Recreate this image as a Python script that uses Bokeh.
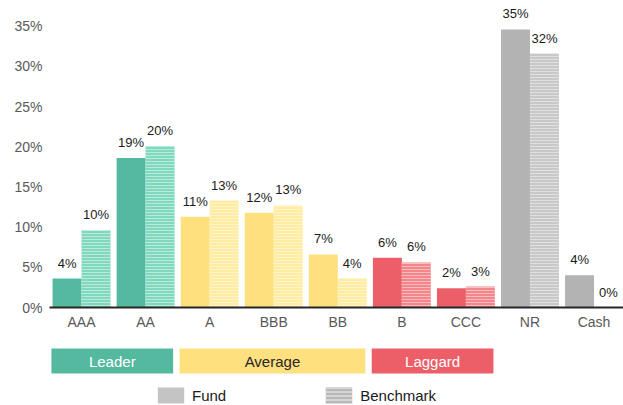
from bokeh.plotting import figure
from bokeh.models import Range1d, FixedTicker, ColumnDataSource, Legend, LegendItem
from bokeh.layouts import column
from bokeh.core.properties import value
from bokeh.embed import file_html
from bokeh.resources import INLINE

# ---------------- data ----------------
categories = ["AAA", "AA", "A", "BBB", "BB", "B", "CCC", "NR", "Cash"]
fund = [3.6, 18.6, 11.3, 11.8, 6.6, 6.2, 2.4, 34.6, 4.0]
benchmark = [9.6, 20.1, 13.3, 12.7, 3.6, 5.6, 2.6, 31.6, 0.0]
tiers = ["Leader", "Leader", "Average", "Average", "Average", "Laggard", "Laggard", "Other", "Other"]
band_names = ["Leader", "Average", "Laggard"]
y_ticks = [0, 5, 10, 15, 20, 25, 30, 35]
series_names = ["Fund", "Benchmark"]

# ---------------- styles ----------------
FONT = "Liberation Sans"
fund_colors = {"Leader": "#55B9A0", "Average": "#FFE07E", "Laggard": "#EC5F68", "Other": "#B3B3B3"}
bench_colors = {"Leader": "#80D8BF", "Average": "#FFECA0", "Laggard": "#F4868B", "Other": "#C8C8C8"}
band_text_colors = {"Leader": "white", "Average": "#262626", "Laggard": "white"}

idx = list(range(len(categories)))
half = 0.226
xf = [i - half for i in idx]
xb = [i + half for i in idx]

fund_src = ColumnDataSource(dict(
    x=xf, top=fund, color=[fund_colors[t] for t in tiers],
    label=[f"{round(v):.0f}%" for v in fund]))
bench_src = ColumnDataSource(dict(
    x=xb, top=benchmark, color=[bench_colors[t] for t in tiers],
    label=[f"{round(v):.0f}%" for v in benchmark]))

x_range = Range1d(-0.5, 8.46)

p = figure(width=623, height=337, x_range=x_range, y_range=Range1d(0, 38.2),
           output_backend="svg", toolbar_location=None,
           min_border_left=49, min_border_right=0, min_border_top=0, min_border_bottom=30)
p.outline_line_color = None
p.grid.visible = False
p.background_fill_color = "white"
p.border_fill_color = "white"

p.vbar(x="x", top="top", width=2 * half, source=fund_src, fill_color="color", line_color=None)
p.vbar(x="x", top="top", width=2 * half, source=bench_src, fill_color="color", line_color=None,
       hatch_pattern="horizontal_line", hatch_color="white", hatch_alpha=0.45,
       hatch_scale=3, hatch_weight=1)

for src in (fund_src, bench_src):
    p.text(x="x", y="top", text="label", source=src, text_align="center",
           text_baseline="bottom", y_offset=-8, text_font=value(FONT),
           text_font_size="13px", text_color="#1a1a1a")

# axes
p.yaxis.ticker = FixedTicker(ticks=y_ticks)
p.yaxis.major_label_overrides = {t: f"{t}%" for t in y_ticks}
p.yaxis.axis_line_color = None
p.yaxis.major_tick_line_color = None
p.yaxis.minor_tick_line_color = None
p.yaxis.major_label_text_font = FONT
p.yaxis.major_label_text_font_size = "14px"
p.yaxis.major_label_text_color = "#595959"
p.yaxis.major_label_standoff = 1

p.xaxis.ticker = FixedTicker(ticks=idx)
p.xaxis.major_label_overrides = {i: c for i, c in zip(idx, categories)}
p.xaxis.axis_line_color = "#262626"
p.xaxis.axis_line_width = 2
p.xaxis.major_tick_line_color = None
p.xaxis.minor_tick_line_color = None
p.xaxis.major_label_text_font = FONT
p.xaxis.major_label_text_font_size = "14px"
p.xaxis.major_label_text_color = "#595959"
p.xaxis.major_label_standoff = 0

# ---------------- band + legend figure ----------------
p2 = figure(width=623, height=68, x_range=x_range, y_range=Range1d(68, 0),
            output_backend="svg", toolbar_location=None,
            min_border_left=49, min_border_right=0, min_border_top=0, min_border_bottom=0,
            x_axis_location=None, y_axis_location=None)
p2.outline_line_color = None
p2.grid.visible = False

b_left, b_right, b_mid, b_col, b_tcol = [], [], [], [], []
for name in band_names:
    members = [i for i, t in zip(idx, tiers) if t == name]
    l = min(members) - 0.47
    r = max(members) + 0.43
    b_left.append(l)
    b_right.append(r)
    b_mid.append((l + r) / 2)
    b_col.append(fund_colors[name])
    b_tcol.append(band_text_colors[name])

band_src = ColumnDataSource(dict(left=b_left, right=b_right, mid=b_mid, color=b_col,
                                 tcol=b_tcol, name=band_names))
p2.quad(left="left", right="right", top=11, bottom=36, source=band_src,
        fill_color="color", line_color=None)
p2.text(x="mid", y=23.5, text="name", source=band_src, text_align="center",
        text_baseline="middle", text_color="tcol", text_font=value(FONT),
        text_font_size="15px")

# invisible (zero-height) renderers used only for the legend swatches
r_fund = p2.vbar(x=[0], top=[0], bottom=[0], width=0.01, fill_color="#C4C4C4", line_color=None)
r_bench = p2.vbar(x=[0], top=[0], bottom=[0], width=0.01, fill_color="#B8B8B8", line_color=None,
                  hatch_pattern="horizontal_line", hatch_color="#D6D6D6", hatch_alpha=1.0,
                  hatch_scale=4, hatch_weight=2)
legend = Legend(items=[LegendItem(label=series_names[0], renderers=[r_fund]),
                       LegendItem(label=series_names[1], renderers=[r_bench])],
                orientation="horizontal", location=(105, 0),
                glyph_width=33, glyph_height=20, label_standoff=5, spacing=96,
                padding=0, margin=0, border_line_color=None,
                background_fill_alpha=0, label_text_font=FONT,
                label_text_font_size="15px", label_text_color="#1a1a1a")
p2.add_layout(legend, "center")

layout = column(p, p2, spacing=0)
open("out.html", "w").write(file_html(layout, INLINE))
